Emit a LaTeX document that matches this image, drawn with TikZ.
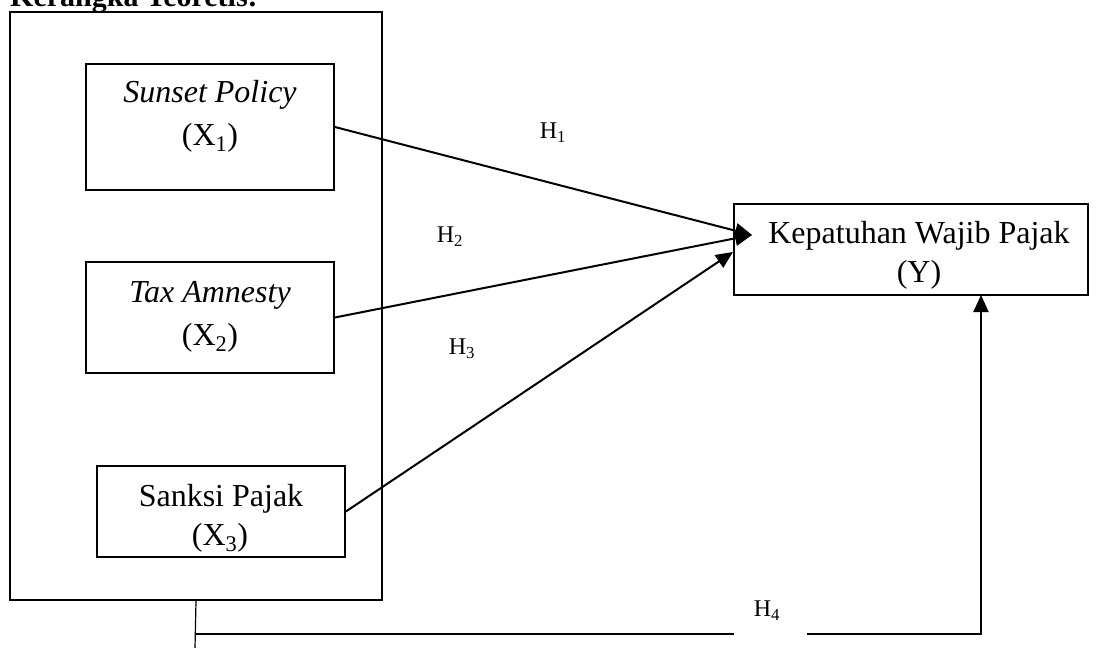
\documentclass[tikz,border=0pt]{standalone}
\usepackage{fontspec}
\setmainfont{Liberation Serif}
\usetikzlibrary{arrows.meta}
\begin{document}
\begin{tikzpicture}[x=1pt,y=-1pt,
  frame/.style={draw, line width=2pt, inner sep=0pt},
  varbox/.style={draw, line width=1.8pt, inner sep=0pt},
  boxtext/.style={font=\fontsize{32}{38}\selectfont, anchor=base, inner sep=0pt},
  titletext/.style={font=\fontsize{30}{36}\selectfont\bfseries, anchor=base west, inner sep=0pt},
  hyp/.style={font=\fontsize{24}{28}\selectfont, inner sep=0pt},
  link/.style={line width=2pt},
  thinlink/.style={line width=1.2pt},
  arrowlink/.style={link, -{Triangle[length=17pt,width=15pt]}}]
\useasboundingbox (0,0) rectangle (1096,648);

% heading, partly above the page edge
\node[titletext] (title) at (10,6) {Kerangka Teoretis:};

% frame around the independent variables
\node[frame, minimum width=372pt, minimum height=588pt] (outer) at (196,306) {};

% independent variables
\node[varbox, minimum width=248pt, minimum height=126pt] (x1) at (210,127) {};
\node[boxtext] (x1a) at (210,102) {\itshape Sunset Policy};
\node[boxtext] (x1b) at (210,145) {(X\textsubscript{1})};

\node[varbox, minimum width=248pt, minimum height=111pt] (x2) at (210,317.5) {};
\node[boxtext] (x2a) at (210,302) {\itshape Tax Amnesty};
\node[boxtext] (x2b) at (210,345) {(X\textsubscript{2})};

\node[varbox, minimum width=248pt, minimum height=91pt] (x3) at (221,511.5) {};
\node[boxtext] (x3a) at (221,506) {Sanksi Pajak};
\node[boxtext] (x3b) at (220,545) {(X\textsubscript{3})};

% dependent variable
\node[varbox, minimum width=354pt, minimum height=91pt] (y) at (911,249.5) {};
\node[boxtext] (ya) at (919,243) {Kepatuhan Wajib Pajak};
\node[boxtext] (yb) at (919,282) {(Y)};

% partial hypotheses
\coordinate (tip) at (752,235);
\coordinate (tip3) at (733,252);
\draw[arrowlink] (x1.east) -- (tip);
\draw[arrowlink] (x2.east) -- (tip);
\draw[arrowlink] (x3.east) -- (tip3);
\node[hyp] (h1) at (553,133) {H\textsubscript{1}};
\node[hyp] (h2) at (450,237) {H\textsubscript{2}};
\node[hyp] (h3) at (462,349) {H\textsubscript{3}};

% simultaneous hypothesis
\coordinate (drop) at (195,648);
\coordinate (h4l) at (196,634);
\coordinate (h4a) at (734,634);
\coordinate (h4b) at (807,634);
\coordinate (h4r) at (981,634);
\coordinate (yin) at (981,295);
\draw[thinlink] (outer.south) -- (drop);
\draw[link] (h4l) -- (h4a);
\draw[arrowlink] (h4b) -- (h4r) -- (yin);
\node[hyp] (h4) at (767,611) {H\textsubscript{4}};
\end{tikzpicture}
\end{document}
